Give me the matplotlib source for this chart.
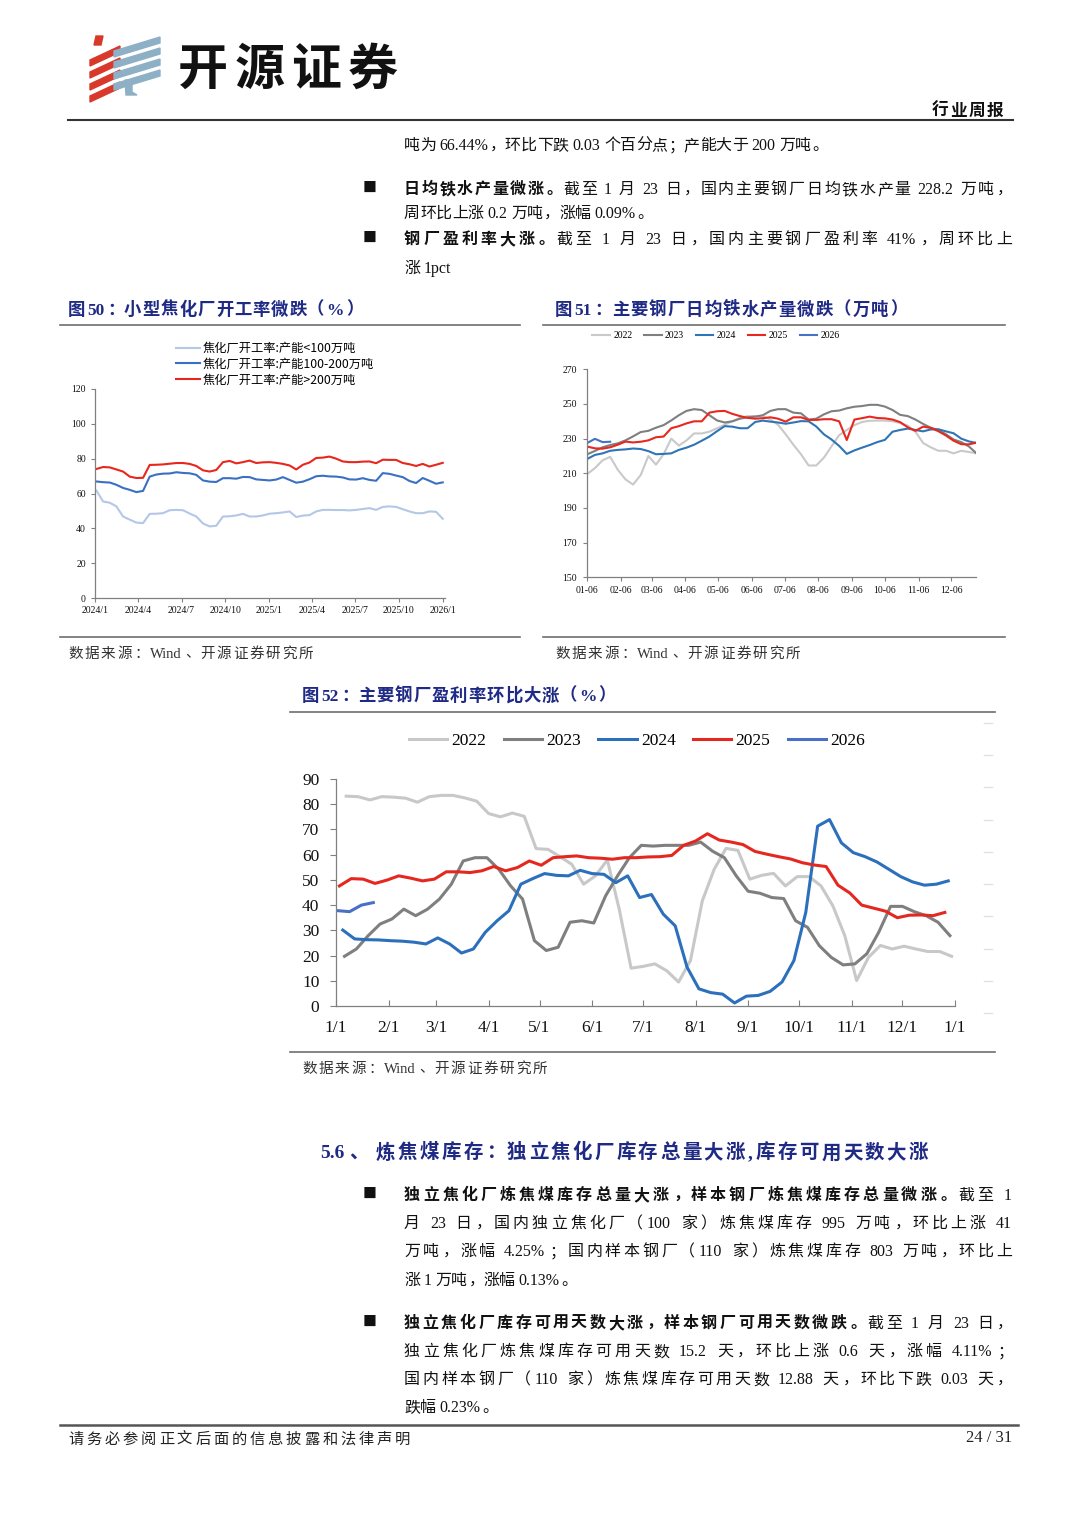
import numpy as np
import pandas as pd
import matplotlib
matplotlib.use('Agg')
import matplotlib.pyplot as plt
import matplotlib.transforms as mtransforms
from matplotlib.patches import Polygon
from matplotlib.lines import Line2D
from matplotlib.font_manager import FontProperties

# ---------------- data ----------------
# Fig 50: coking plant utilisation (%), biweekly from 2024-01
ck_labels = ['焦化厂开工率:产能<100万吨', '焦化厂开工率:产能100-200万吨', '焦化厂开工率:产能>200万吨']
ck_small = [61.7, 55.4, 54.7, 52.6, 46.8, 45.0, 43.3, 43.0, 48.3, 48.4, 48.7, 50.4, 50.6, 50.4, 48.5, 46.8,
            42.8, 41.1, 41.5, 46.8, 46.9, 47.4, 48.3, 46.8, 46.8, 47.4, 48.4, 48.7, 49.1, 49.7, 46.5, 47.3,
            47.6, 49.7, 50.6, 50.6, 50.5, 50.5, 50.3, 50.6, 51.1, 51.6, 50.6, 52.3, 52.6, 52.3, 51.0, 49.7,
            48.7, 48.7, 49.7, 49.5, 45.5]
ck_mid = [66.9, 66.5, 66.3, 65.0, 63.2, 62.1, 60.8, 61.5, 69.7, 70.9, 71.4, 71.5, 72.2, 71.8, 71.6, 70.7,
          67.5, 66.8, 66.6, 68.8, 68.8, 68.5, 69.5, 69.4, 68.1, 67.8, 67.5, 68.0, 69.4, 67.8, 66.2, 66.8,
          68.2, 69.9, 70.2, 69.8, 69.7, 69.2, 68.1, 68.0, 68.8, 67.8, 67.3, 71.7, 71.3, 70.3, 69.4, 67.2,
          66.0, 68.9, 67.3, 65.6, 66.4]
ck_large = [74.1, 75.2, 75.0, 73.8, 72.6, 69.7, 68.9, 69.0, 76.4, 76.5, 76.7, 77.1, 77.5, 77.5, 77.0, 75.8,
            73.3, 72.6, 73.5, 78.0, 78.7, 77.3, 78.0, 78.9, 77.5, 77.9, 78.0, 77.6, 77.0, 76.1, 73.8, 76.5,
            77.8, 80.4, 80.6, 81.2, 80.0, 78.4, 78.0, 78.0, 78.3, 78.4, 77.4, 79.4, 79.3, 79.3, 77.5, 76.8,
            75.8, 77.0, 75.5, 76.5, 77.6]
ck_start = '2024-01-04'
ck_ticks = ['2024-01', '2024-04', '2024-07', '2024-10', '2025-01', '2025-04', '2025-07', '2025-10', '2026-01']

# Fig 51: daily hot metal output (10k t), weekly from 01-06
hm_years = ['2022', '2023', '2024', '2025', '2026']
hm_2022 = [209.6, 213, 217.5, 219.5, 212, 206.5, 203.5, 209, 220, 215, 221, 230, 226, 229, 233, 233, 234, 236,
           238, 240, 242, 243, 243, 243, 241, 238, 232.5, 226.5, 221, 214.5, 214.5, 219, 225.5, 232, 235,
           237.8, 239.6, 240.3, 240.4, 240.4, 240, 239, 237.5, 234, 227.5, 225, 223, 223, 221.5, 223, 222.3, 221.5]
hm_2023 = [221, 222.9, 225, 226.3, 227.3, 229, 231.3, 233.8, 234.5, 236.3, 237.8, 240.5, 243.5, 246, 247, 246.5,
           243.5, 240.5, 239.3, 240, 241.5, 242.3, 242.7, 243.5, 246, 247, 247, 245, 244.6, 241, 241.5, 244,
           245.8, 246.2, 247.5, 248.4, 248.8, 249.5, 249.5, 248.5, 246.5, 243.7, 243, 241, 238.5, 236.3, 235,
           232.5, 229.5, 228, 225.5, 221.5]
hm_2024 = [218.3, 220.6, 221.5, 223, 223.5, 223.8, 224.3, 224, 222.8, 221, 221.2, 221.5, 223.5, 224.8, 226.5,
           228.8, 231.2, 234.3, 237.2, 236.9, 236, 236, 239.6, 240.4, 239.8, 239.3, 238.6, 239.3, 240.1, 240,
           237, 232.5, 229.5, 225.8, 221.2, 223.2, 224.8, 226.3, 228, 229.3, 234, 235, 235.8, 235, 234.2,
           235.3, 235.4, 234.2, 233.1, 230, 228.4, 227.5]
hm_2025 = [225.4, 224.4, 224.2, 225, 226.5, 228.3, 227.8, 228.2, 229, 230.8, 231.2, 236, 237.2, 238.8, 240, 240,
           245, 245.8, 246, 244.3, 243, 242, 241.5, 241.8, 242.3, 241.5, 239.8, 242.3, 242.3, 240.8, 240.8,
           241.2, 241.2, 240, 229.2, 241, 241.8, 242.7, 241.9, 241.7, 241, 239.5, 236.5, 234.5, 236.9, 236.2,
           234.3, 231.8, 228.8, 226.8, 226.7, 227.7]
hm_2026 = [227.5, 229.9, 228.0, 228.2]
hm_ticks = ['01-06', '02-06', '03-06', '04-06', '05-06', '06-06', '07-06', '08-06', '09-06', '10-06', '11-06', '12-06']

# Fig 52: steel mill profitability (%), weekly
pr_years = ['2022', '2023', '2024', '2025', '2026']
pr_start = ['2022-01-07', '2023-01-06', '2024-01-05', '2025-01-03', '2026-01-02']
pr_2022 = [83.2, 83.0, 81.7, 83.0, 82.8, 82.4, 80.8, 83.0, 83.5, 83.5, 82.5, 81.2, 76.3, 75.0, 76.5, 75.2,
           62.4, 62.1, 59.2, 56.2, 48.3, 51.6, 57.9, 38.4, 15.0, 15.7, 16.7, 14.0, 9.5, 18.0, 41.7, 54.2,
           62.5, 61.7, 50.3, 51.8, 52.6, 47.6, 51.3, 51.3, 47.6, 39.7, 27.9, 10.1, 19.3, 24.0, 22.6, 23.7,
           22.6, 21.6, 21.6, 19.7]
pr_2023 = [19.7, 22.6, 27.9, 32.5, 34.5, 38.4, 35.8, 38.4, 42.4, 48.3, 57.5, 58.8, 58.8, 54.2, 47.6, 42.4,
           25.9, 22.0, 23.3, 33.2, 33.8, 32.9, 43.7, 51.6, 58.8, 63.7, 63.4, 63.7, 63.7, 63.7, 65.0, 61.4,
           58.8, 51.6, 45.5, 44.7, 43.0, 42.6, 33.8, 31.2, 23.9, 19.3, 16.3, 16.7, 20.7, 29.2, 39.5, 39.5,
           37.4, 35.8, 33.2, 27.9]
pr_2024 = [30.1, 26.6, 26.3, 26.2, 25.9, 25.7, 25.3, 24.6, 27.0, 24.6, 21.0, 22.6, 29.2, 33.8, 37.8, 48.3,
           50.5, 52.5, 51.8, 51.6, 53.8, 52.5, 52.2, 48.9, 51.6, 43.0, 44.2, 36.4, 31.8, 15.4, 6.8, 5.3,
           4.7, 1.2, 3.9, 4.2, 5.8, 9.5, 18.0, 37.1, 71.3, 73.9, 64.7, 60.8, 59.2, 57.1, 54.2, 51.3,
           49.2, 47.9, 48.3, 49.6]
pr_2025 = [47.6, 50.5, 50.3, 48.6, 49.9, 51.6, 50.7, 49.6, 50.3, 53.2, 53.2, 52.9, 53.6, 55.3, 53.6, 54.9,
           57.5, 55.8, 58.8, 59.2, 59.5, 58.8, 58.6, 58.2, 58.8, 58.8, 59.1, 59.2, 59.7, 63.7, 65.4, 68.3,
           65.8, 65.0, 64.0, 61.3, 60.2, 59.2, 58.3, 56.8, 55.9, 55.3, 47.9, 44.8, 40.0, 38.8, 37.6, 35.0,
           36.0, 36.1, 35.8, 37.1]
pr_2026 = [37.8, 37.4, 40.0, 41.0]
pr_ticks = ['1/1', '2/1', '3/1', '4/1', '5/1', '6/1', '7/1', '8/1', '9/1', '10/1', '11/1', '12/1', '1/1']

# ---------------- page setup ----------------
W, H = 1080, 1527
fig = plt.figure(figsize=(W / 100, H / 100), dpi=100)
fig.patch.set_facecolor('white')
R = fig.canvas.get_renderer()
IDT = mtransforms.IdentityTransform()
CJK = 'Noto Sans CJK SC'
LAT = 'Liberation Serif'
NAVY = '#1F2A85'
LEFT_P = set('，。、：；')


def hline(x0, x1, y, color='#555555', lw=1.0):
    fig.add_artist(Line2D([x0, x1], [H - y, H - y], transform=IDT, color=color, lw=lw))


def draw_line(x0, yc, segs, size, x1=None, color='#111111', space=0.2):
    em = size * 100 / 72
    items = []
    for txt, bold in segs:
        buf = ''
        for ch in txt:
            if ord(ch) < 128 and ch != ' ':
                buf += ch
                continue
            if buf:
                items.append((buf, bold))
                buf = ''
            items.append((ch, bold))
        if buf:
            items.append((buf, bold))
    base = H - (yc + 0.38 * em)
    widths, arts = [], []
    for tk, bold in items:
        wt = 'bold' if bold else 'normal'
        if tk == ' ':
            widths.append(space * em)
            arts.append(None)
        elif ord(tk[0]) >= 128:
            t = fig.text(0, base, tk, fontsize=size, fontweight=wt, family=[CJK, 'DejaVu Sans'],
                         color=color, va='baseline', transform=IDT)
            widths.append(em)
            arts.append(t)
        else:
            t = fig.text(0, base, tk, fontsize=size, fontweight=wt, family=[LAT, 'DejaVu Sans'],
                         color=color, va='baseline', ha='left', transform=IDT)
            widths.append(t.get_window_extent(R).width + 0.06 * em)
            arts.append(t)
    n = len(items)
    gap = 0.0
    if x1 is not None and n > 1:
        gap = (x1 - x0 - sum(widths)) / (n - 1)
    x = x0
    for (tk, _), w, a in zip(items, widths, arts):
        if a is not None:
            if ord(tk[0]) >= 128:
                if tk in LEFT_P:
                    a.set_ha('left'); a.set_x(x + 0.08 * em)
                elif tk == '（':
                    a.set_ha('right'); a.set_x(x + 0.95 * em)
                elif tk == '）':
                    a.set_ha('left'); a.set_x(x + 0.05 * em)
                else:
                    a.set_ha('center'); a.set_x(x + 0.5 * em)
            else:
                a.set_x(x + 0.03 * em)
        x += w + gap


def bullet(y):
    fig.text(363, H - y, '■', fontsize=10, family=[CJK], va='center', ha='left', transform=IDT, color='#111111')


# ---------------- header / logo ----------------
red = '#D8392B'
blue = '#8DB0C6'
fig.add_artist(Polygon([(96, H - 36), (103, H - 36), (101, H - 45), (94, H - 45)], closed=True,
                       transform=IDT, color=red))
for i in range(4):
    yt = 46 + i * 12
    fig.add_artist(Polygon([(90, H - (yt + 14)), (120, H - yt), (120, H - (yt + 6)), (90, H - (yt + 20))],
                           closed=True, transform=IDT, color=red))
for i in range(4):
    yt = 37 + i * 11
    fig.add_artist(Polygon([(114, H - (yt + 14)), (160, H - yt), (160, H - (yt + 6)), (114, H - (yt + 20))],
                           closed=True, transform=IDT, color=blue))
fig.add_artist(Polygon([(125, H - 80), (132, H - 80), (132, H - 92), (137, H - 95), (126, H - 95)],
                       closed=True, transform=IDT, color=blue))
draw_line(178, 66, [('开源证券', True)], 36, x1=398, color='#111111')
draw_line(932, 110, [('行业周报', True)], 12, x1=1003, color='#111111')
hline(68, 1013, 120, color='#333333', lw=1.5)

# ---------------- top text ----------------
BODY = 11.5
draw_line(404, 144, [('吨为 66.44%，环比下跌 0.03 个百分点；产能大于 200 万吨。', False)], BODY)
bullet(188)
draw_line(404, 188, [('日均铁水产量微涨。', True), ('截至 1 月 23 日，国内主要钢厂日均铁水产量 228.2 万吨，', False)],
          BODY, x1=1012)
draw_line(404, 212, [('周环比上涨 0.2 万吨，涨幅 0.09%。', False)], BODY)
bullet(238)
draw_line(404, 238, [('钢厂盈利率大涨。', True), ('截至 1 月 23 日，国内主要钢厂盈利率 41%，周环比上', False)],
          BODY, x1=1012)
draw_line(404, 267, [('涨 1pct', False)], BODY)

# ---------------- chart titles / frames ----------------
draw_line(68, 308, [('图50：小型焦化厂开工率微跌（%）', True)], 12.5, x1=363, color=NAVY)
draw_line(555, 308, [('图51：主要钢厂日均铁水产量微跌（万吨）', True)], 12.5, x1=907, color=NAVY)
hline(60, 520, 325, color='#6E6E6E', lw=1.2)
hline(543, 1005, 325, color='#6E6E6E', lw=1.2)
hline(60, 520, 637, color='#6E6E6E', lw=1.2)
hline(543, 1005, 637, color='#6E6E6E', lw=1.2)
draw_line(68, 652, [('数据来源：Wind、开源证券研究所', False)], 10.5, x1=313, color='#333333')
draw_line(555, 652, [('数据来源：Wind、开源证券研究所', False)], 10.5, x1=800, color='#333333')

draw_line(302, 694, [('图52：主要钢厂盈利率环比大涨（%）', True)], 12.5, x1=615, color=NAVY)
hline(290, 995, 712, color='#6E6E6E', lw=1.2)
hline(290, 995, 1052, color='#6E6E6E', lw=1.2)
draw_line(302, 1067, [('数据来源：Wind、开源证券研究所', False)], 10.5, x1=547, color='#333333')
for yy in np.linspace(723, 1013, 10):
    fig.add_artist(Line2D([984, 992], [H - yy, H - yy], transform=IDT, color='#E2E2E2', lw=1))

SPINE = '#808080'


def style_axes(ax, size, ypad, xpad, xdir, ylen=3, xlen=3):
    for s in ['top', 'right']:
        ax.spines[s].set_visible(False)
    for s in ['left', 'bottom']:
        ax.spines[s].set_color(SPINE)
        ax.spines[s].set_linewidth(0.9)
    ax.tick_params(axis='y', direction='out', length=ylen, width=0.8, color=SPINE, labelsize=size, pad=ypad)
    ax.tick_params(axis='x', direction=xdir, length=xlen, width=0.8, color=SPINE, labelsize=size, pad=xpad)
    for lbl in ax.get_xticklabels() + ax.get_yticklabels():
        lbl.set_fontfamily([LAT, 'DejaVu Sans'])
        lbl.set_color('#111111')
    ax.set_facecolor('none')


# ---------------- Fig 50 ----------------
t0 = pd.Timestamp('2024-01-01')
ax50 = fig.add_axes([95 / W, 1 - 598 / H, 350 / W, (598 - 389) / H])
d50 = pd.date_range(ck_start, periods=len(ck_small), freq='14D')
x50 = np.asarray((d50 - t0).days)
ln1, = ax50.plot(x50, ck_small, color='#B4C7E7', lw=1.5)
ln2, = ax50.plot(x50, ck_mid, color='#3A70C4', lw=1.5)
ln3, = ax50.plot(x50, ck_large, color='#E8261D', lw=1.5)
ax50.set_xlim(0, 735.8)
ax50.set_ylim(0, 120)
tk50 = [(pd.Timestamp(s + '-01') - t0).days for s in ck_ticks]
ax50.set_xticks(tk50)
ax50.set_xticklabels([f"{int(s[:4])}/{int(s[5:])}" for s in ck_ticks])
ax50.set_yticks(np.arange(0, 121, 20))
style_axes(ax50, 7, 3.5, 2.5, 'out')
ax50.legend([ln1, ln2, ln3], ck_labels, loc='center left', bbox_to_anchor=(176, H - 364),
            bbox_transform=IDT, frameon=False, handlelength=2.0, handletextpad=0.15,
            labelspacing=0.22, borderpad=0, borderaxespad=0,
            prop=FontProperties(family=[CJK, 'DejaVu Sans'], size=8.8, weight='medium'))

# ---------------- Fig 51 ----------------
ax51 = fig.add_axes([587.3 / W, 1 - 577.3 / H, (976.5 - 587.3) / W, (577.3 - 369.3) / H])
hm_series = [hm_2022, hm_2023, hm_2024, hm_2025, hm_2026]
hm_colors = ['#C9C9C9', '#7F7F7F', '#2E75B6', '#E8281E', '#4472C4']
hl = []
for vals, c in zip(hm_series, hm_colors):
    xx = 5 + 7 * np.arange(len(vals))
    l, = ax51.plot(xx, vals, color=c, lw=1.5)
    hl.append(l)
ax51.set_xlim(5, 362)
ax51.set_ylim(150, 270)
tk51 = [(pd.Timestamp('2023-' + s) - pd.Timestamp('2023-01-01')).days for s in hm_ticks]
ax51.set_xticks(tk51)
ax51.set_xticklabels(hm_ticks)
ax51.set_yticks(np.arange(150, 271, 20))
style_axes(ax51, 7, 4.5, 3.5, 'out')
ax51.legend(hl, hm_years, loc='center', bbox_to_anchor=(716, H - 336), bbox_transform=IDT,
            ncol=5, frameon=False, handlelength=1.8, handletextpad=0.35, columnspacing=1.2,
            borderpad=0, prop=FontProperties(family=[LAT], size=7))

# ---------------- Fig 52 ----------------
ax52 = fig.add_axes([336 / W, 1 - 1006 / H, (955 - 336) / W, (1006 - 779) / H])
pr_series = [pr_2022, pr_2023, pr_2024, pr_2025, pr_2026]
pr_colors = ['#C8C8C8', '#7F7F7F', '#2B6FBD', '#E5281F', '#4A6FC6']
pl = []
for vals, st, c in zip(pr_series, pr_start, pr_colors):
    d = pd.date_range(st, periods=len(vals), freq='7D')
    xx = np.asarray((d - pd.Timestamp(st[:4] + '-01-01')).days)
    l, = ax52.plot(xx, vals, color=c, lw=2.2)
    pl.append(l)
ax52.set_xlim(0, 365)
ax52.set_ylim(0, 90)
tk52 = [(pd.Timestamp(f'2023-{m:02d}-01') - pd.Timestamp('2023-01-01')).days for m in range(1, 13)] + [365]
ax52.set_xticks(tk52)
ax52.set_xticklabels(pr_ticks)
ax52.set_yticks(np.arange(0, 91, 10))
style_axes(ax52, 12.5, 8, 10, 'in', ylen=4, xlen=4)
ax52.legend(pl, pr_years, loc='center', bbox_to_anchor=(637, H - 741), bbox_transform=IDT,
            ncol=5, frameon=False, handlelength=2.2, handletextpad=0.25, columnspacing=1.0,
            borderpad=0, prop=FontProperties(family=[LAT], size=12.5))

# ---------------- section 5.6 ----------------
draw_line(320, 1151, [('5.6、 炼焦煤库存：独立焦化厂库存总量大涨,库存可用天数大涨', True)], 14, x1=928, color=NAVY)
bullet(1194)
draw_line(404, 1194, [('独立焦化厂炼焦煤库存总量大涨，样本钢厂炼焦煤库存总量微涨。', True), ('截至 1', False)],
          BODY, x1=1012)
draw_line(404, 1222, [('月 23 日，国内独立焦化厂（100 家）炼焦煤库存 995 万吨，环比上涨 41', False)], BODY, x1=1012)
draw_line(404, 1250, [('万吨，涨幅 4.25%；国内样本钢厂（110 家）炼焦煤库存 803 万吨，环比上', False)], BODY, x1=1012)
draw_line(404, 1279, [('涨 1 万吨，涨幅 0.13%。', False)], BODY)
bullet(1322)
draw_line(404, 1322, [('独立焦化厂库存可用天数大涨，样本钢厂可用天数微跌。', True), ('截至 1 月 23 日，', False)],
          BODY, x1=1012)
draw_line(404, 1350, [('独立焦化厂炼焦煤库存可用天数 15.2 天，环比上涨 0.6 天，涨幅 4.11%；', False)], BODY, x1=1012)
draw_line(404, 1378, [('国内样本钢厂（110 家）炼焦煤库存可用天数 12.88 天，环比下跌 0.03 天，', False)], BODY, x1=1012)
draw_line(404, 1406, [('跌幅 0.23%。', False)], BODY)

# ---------------- footer ----------------
hline(60, 1018, 1425, color='#555555', lw=1.8)
draw_line(68, 1438, [('请务必参阅正文后面的信息披露和法律声明', False)], 11, x1=410, color='#222222')
fig.text(1012, H - 1438, '24 / 31', fontsize=12, family=[LAT], ha='right', va='center', transform=IDT,
         color='#222222')

fig.savefig('out.png', dpi=100, facecolor='white')
